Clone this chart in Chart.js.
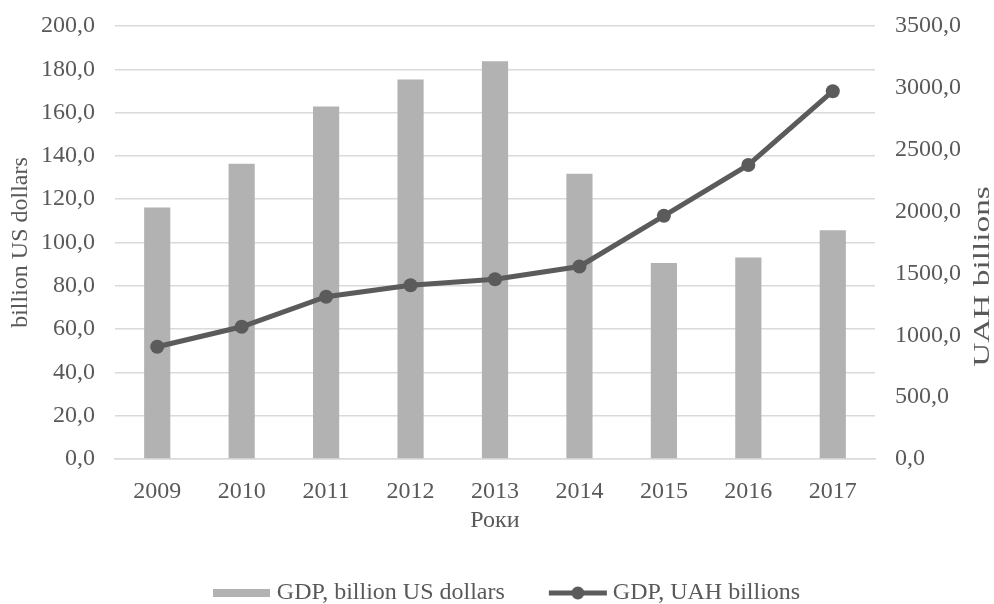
<!DOCTYPE html>
<html>
<head>
<meta charset="utf-8">
<script src="https://cdn.jsdelivr.net/npm/chart.js@4.4.0/dist/chart.umd.min.js"></script>
<style>
    html, body { margin: 0; padding: 0; background: #fff; }
    #wrap { width: 994px; height: 604px; position: relative; }
</style>
</head>
<body>
<div id="wrap"><canvas id="gdpChart"></canvas></div>
<script>
const years = ['2009', '2010', '2011', '2012', '2013', '2014', '2015', '2016', '2017'];
const gdpUsd = [116.2, 136.4, 162.8, 175.3, 183.7, 131.7, 90.5, 93.1, 105.7];
const gdpUah = [907, 1069, 1312, 1405, 1453, 1556, 1966, 2377, 2973];

const barColor = '#b2b2b2';
const lineColor = '#5b5b5b';
const textColor = '#595959';
const gridColor = '#dadada';
const fontFamily = '"Liberation Serif", "Times New Roman", serif';
const fontSize = 24;

function commaFormat(v) {
    return Number(v).toFixed(1).replace('.', ',');
}

// legend markers: grey block for the bars, line with a dot for the line series
function makeMarker(kind) {
    const c = document.createElement('canvas');
    c.width = kind === 'bar' ? 57 : 60;
    c.height = 18;
    const g = c.getContext('2d');
    if (kind === 'bar') {
        g.fillStyle = barColor;
        g.fillRect(0, 5, 57, 8);
    } else {
        g.strokeStyle = lineColor;
        g.lineWidth = 5;
        g.beginPath();
        g.moveTo(1, 9);
        g.lineTo(59, 9);
        g.stroke();
        g.fillStyle = lineColor;
        g.beginPath();
        g.arc(30, 9, 6.5, 0, Math.PI * 2);
        g.fill();
    }
    return c;
}

const markers = [makeMarker('bar'), makeMarker('line')];

// right axis title reads bottom-to-top like the left one (and is drawn wide, as in the source)
const rightTitle = {
    id: 'rightTitle',
    afterDraw(chart) {
        const ctx = chart.ctx;
        const yAxis = chart.scales.y1;
        ctx.save();
        ctx.translate(yAxis.right - 11, (yAxis.top + yAxis.bottom) / 2 + 34);
        ctx.rotate(-Math.PI / 2);
        ctx.scale(1.45, 1);
        ctx.font = '23px ' + fontFamily;
        ctx.fillStyle = textColor;
        ctx.textAlign = 'center';
        ctx.textBaseline = 'middle';
        ctx.fillText('UAH billions', 0, 0);
        ctx.restore();
    }
};

// the legend in the source sits a little right of centre
const legendShift = {
    id: 'legendShift',
    afterLayout(chart) {
        chart.legend.left += 25;
    }
};

const ctx = document.getElementById('gdpChart').getContext('2d');

new Chart(ctx, {
    type: 'bar',
    data: {
        labels: years,
        datasets: [
            {
                type: 'bar',
                label: 'GDP, billion US dollars',
                data: gdpUsd,
                backgroundColor: barColor,
                yAxisID: 'y',
                categoryPercentage: 1,
                barPercentage: 0.31,
                order: 2
            },
            {
                type: 'line',
                label: 'GDP, UAH billions',
                data: gdpUah,
                borderColor: lineColor,
                backgroundColor: lineColor,
                borderWidth: 5,
                pointRadius: 7,
                pointBackgroundColor: lineColor,
                pointBorderWidth: 0,
                tension: 0,
                yAxisID: 'y1',
                order: 1
            }
        ]
    },
    options: {
        responsive: true,
        maintainAspectRatio: false,
        animation: false,
        layout: {
            padding: { top: 26, right: 0, bottom: -11, left: 0 }
        },
        scales: {
            x: {
                grid: { display: false, drawTicks: false },
                border: { display: true, color: gridColor, width: 1.5 },
                ticks: {
                    color: textColor,
                    padding: 18,
                    font: { family: fontFamily, size: fontSize }
                },
                title: {
                    display: true,
                    text: 'Роки',
                    color: textColor,
                    padding: { top: 0, bottom: -4 },
                    font: { family: fontFamily, size: fontSize }
                },
                afterFit(scale) { scale.height = 72; }
            },
            y: {
                position: 'left',
                min: 0,
                max: 200,
                // invisible tick marks make the gap between labels and plot
                grid: { color: gridColor, lineWidth: 1.5, drawTicks: true, tickLength: 20, tickColor: 'rgba(0,0,0,0)' },
                border: { display: false },
                ticks: {
                    stepSize: 20,
                    color: textColor,
                    padding: 0,
                    font: { family: fontFamily, size: fontSize },
                    callback: v => commaFormat(v)
                },
                title: {
                    display: true,
                    text: 'billion US dollars',
                    color: textColor,
                    padding: { top: 6, bottom: 0 },
                    font: { family: fontFamily, size: fontSize }
                },
                afterFit(scale) { scale.width = 115; }
            },
            y1: {
                position: 'right',
                min: 0,
                max: 3500,
                grid: { drawOnChartArea: false, drawTicks: true, tickLength: 20, tickColor: 'rgba(0,0,0,0)' },
                border: { display: false },
                ticks: {
                    stepSize: 500,
                    color: textColor,
                    padding: 0,
                    font: { family: fontFamily, size: fontSize },
                    callback: v => commaFormat(v)
                },
                afterFit(scale) { scale.width = 119; }
            }
        },
        plugins: {
            legend: {
                position: 'bottom',
                labels: {
                    usePointStyle: true,
                    pointStyleWidth: 46,
                    padding: 50,
                    color: textColor,
                    font: { family: fontFamily, size: fontSize },
                    sort: (a, b) => a.datasetIndex - b.datasetIndex,
                    generateLabels(chart) {
                        const items = Chart.defaults.plugins.legend.labels.generateLabels(chart);
                        items.forEach(item => { item.pointStyle = markers[item.datasetIndex]; });
                        return items;
                    }
                }
            },
            tooltip: { enabled: false }
        }
    },
    plugins: [rightTitle, legendShift]
});
</script>
</body>
</html>
